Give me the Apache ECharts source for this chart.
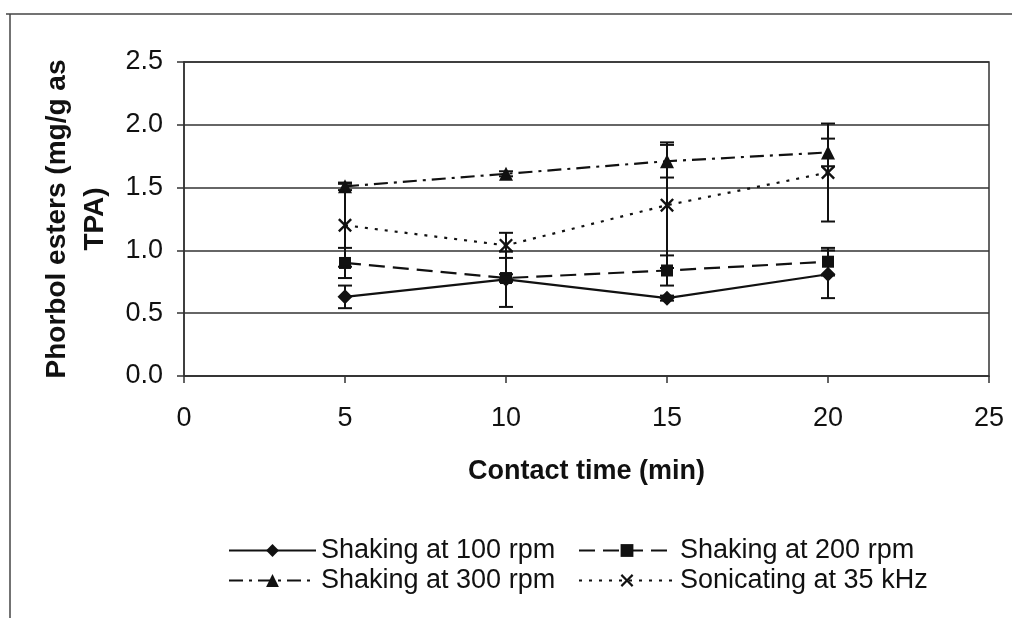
<!DOCTYPE html>
<html><head><meta charset="utf-8">
<script src="https://cdn.jsdelivr.net/npm/echarts@6/dist/echarts.min.js"></script>
<style>html,body{margin:0;padding:0;background:#fff}#c{width:1012px;height:618px}</style>
</head><body><div id="c"></div>
<script>
const times = [5, 10, 15, 20];
const xTicks = [0, 5, 10, 15, 20, 25];
const yTicks = [0.0, 0.5, 1.0, 1.5, 2.0, 2.5];
const names = ['Shaking at 100 rpm', 'Shaking at 200 rpm', 'Shaking at 300 rpm', 'Sonicating at 35 kHz'];
const rpm100 = [0.63, 0.77, 0.62, 0.81];
const rpm200 = [0.90, 0.78, 0.84, 0.91];
const rpm300 = [1.51, 1.61, 1.71, 1.78];
const sonic  = [1.20, 1.04, 1.36, 1.62];
const err100 = [0.09, 0.22, 0.02, 0.19];
const err200 = [0.12, 0.03, 0.12, 0.11];
const err300 = [0.03, 0.02, 0.13, 0.11];
const errSon = [0.33, 0.10, 0.50, 0.39];

const FONT = '"Liberation Sans", Arial, sans-serif';
const INK = '#111';
const xSym = 'path://M0,1.2 L1.2,0 L5,3.8 L8.8,0 L10,1.2 L6.2,5 L10,8.8 L8.8,10 L5,6.2 L1.2,10 L0,8.8 L3.8,5 Z';

function pts(v){ return times.map((t,i)=>[t, v[i]]); }
function errData(v, e){ return times.map((t,i)=>[t, v[i]-e[i], v[i]+e[i]]); }

function errSeries(v, e, nm){
  return {
    type: 'custom', name: nm + ' err', silent: true, z: 5,
    data: errData(v, e),
    encode: {x: 0, y: [1, 2]},
    renderItem: function(params, api){
      const lo = api.coord([api.value(0), api.value(1)]);
      const hi = api.coord([api.value(0), api.value(2)]);
      const w = 7;
      const st = {stroke: INK, lineWidth: 2};
      return {type: 'group', children: [
        {type: 'line', shape: {x1: lo[0], y1: lo[1], x2: hi[0], y2: hi[1]}, style: st},
        {type: 'line', shape: {x1: lo[0]-w, y1: lo[1], x2: lo[0]+w, y2: lo[1]}, style: st},
        {type: 'line', shape: {x1: hi[0]-w, y1: hi[1], x2: hi[0]+w, y2: hi[1]}, style: st}
      ]};
    }
  };
}

function lineSeries(nm, v, symbol, size, dash){
  return {
    type: 'line', name: nm, data: pts(v), symbol: symbol, symbolSize: size,
    lineStyle: {color: INK, width: 2.2, type: dash},
    itemStyle: {color: INK, borderWidth: 0},
    z: 4
  };
}

const chart = echarts.init(document.getElementById('c'), null, {renderer: 'canvas'});
chart.setOption({
  backgroundColor: '#fff',
  animation: false,
  textStyle: {fontFamily: FONT, color: INK},
  grid: {left: 184, right: 23, top: 62, bottom: 242, show: true, borderColor: '#333', borderWidth: 1.5, backgroundColor: 'transparent'},
  xAxis: {
    type: 'value', min: xTicks[0], max: xTicks[xTicks.length-1], interval: 5,
    axisLine: {lineStyle: {color: '#333', width: 1.5}},
    axisTick: {show: true, inside: false, length: 7, lineStyle: {color: '#333', width: 1.5}},
    axisLabel: {fontSize: 27, color: INK, margin: 29, fontFamily: FONT},
    splitLine: {show: false},
    name: 'Contact time (min)', nameLocation: 'middle', nameGap: 82,
    nameTextStyle: {fontSize: 27, fontWeight: 'bold', color: INK, fontFamily: FONT}
  },
  yAxis: {
    type: 'value', min: yTicks[0], max: yTicks[yTicks.length-1], interval: 0.5,
    axisLine: {show: true, lineStyle: {color: '#333', width: 1.5}},
    axisTick: {show: true, inside: false, length: 7, lineStyle: {color: '#333', width: 1.5}},
    axisLabel: {fontSize: 27, color: INK, margin: 21, fontFamily: FONT, formatter: v => v.toFixed(1)},
    splitLine: {show: true, lineStyle: {color: '#333', width: 1.5}},
    name: 'Phorbol esters (mg/g as\nTPA)', nameLocation: 'middle', nameGap: 70, nameRotate: 90,
    nameTextStyle: {fontSize: 28, fontWeight: 'bold', color: INK, fontFamily: FONT, lineHeight: 38, align: 'center'}
  },
  legend: [
    {data: [names[0], names[2]], orient: 'vertical', left: 223, top: 532, itemWidth: 87, itemHeight: 16, itemGap: 3,
     textStyle: {fontSize: 27, color: INK, fontFamily: FONT}},
    {data: [names[1], names[3]], orient: 'vertical', left: 573, top: 532, itemWidth: 96, itemHeight: 16, itemGap: 3,
     textStyle: {fontSize: 27, color: INK, fontFamily: FONT}}
  ],
  graphic: [
    {type: 'line', shape: {x1: 6, y1: 14, x2: 1012, y2: 14}, style: {stroke: '#444', lineWidth: 1.5}, silent: true},
    {type: 'line', shape: {x1: 10, y1: 14, x2: 10, y2: 618}, style: {stroke: '#444', lineWidth: 1.5}, silent: true}
  ],
  series: [
    lineSeries(names[0], rpm100, 'diamond', 15, 'solid'),
    lineSeries(names[1], rpm200, 'rect', 12, [16, 8]),
    lineSeries(names[2], rpm300, 'triangle', 14, [14, 6, 3, 6]),
    lineSeries(names[3], sonic, xSym, 14, [3, 7]),
    errSeries(rpm100, err100, names[0]),
    errSeries(rpm200, err200, names[1]),
    errSeries(rpm300, err300, names[2]),
    errSeries(sonic, errSon, names[3])
  ]
});
</script>
</body></html>
